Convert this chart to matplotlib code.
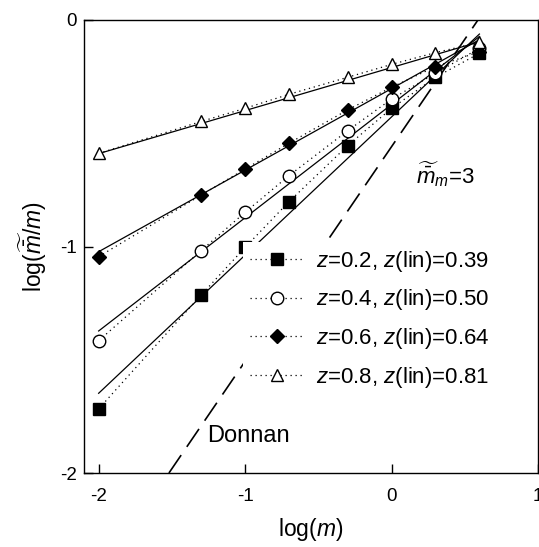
import matplotlib
matplotlib.use('Agg')
import matplotlib.pyplot as plt
import numpy as np

plt.rcParams['font.family'] = ['Liberation Sans', 'DejaVu Sans']
plt.rcParams['mathtext.fontset'] = 'custom'
plt.rcParams['mathtext.rm'] = 'Liberation Sans'
plt.rcParams['mathtext.it'] = 'Liberation Sans:italic'

# log of molality
logm = [-2.0, -1.3, -1.0, -0.7, -0.3, 0.0, 0.3, 0.6]

# log(m_bar/m) for each z
y_z02 = [-1.717, -1.214, -1.004, -0.802, -0.555, -0.390, -0.253, -0.147]
y_z04 = [-1.416, -1.018, -0.849, -0.687, -0.489, -0.349, -0.235, -0.125]
y_z06 = [-1.045, -0.773, -0.658, -0.544, -0.397, -0.297, -0.206, -0.140]
y_z08 = [-0.589, -0.448, -0.390, -0.328, -0.253, -0.196, -0.144, -0.099]

z_vals = [0.2, 0.4, 0.6, 0.8]
z_lin = [0.39, 0.50, 0.64, 0.81]
# intercepts of the linear fits at log(m)=0, slope = 1 - z(lin)
fit_b = [-0.428, -0.373, -0.303, -0.210]
fit_x = [-2.0, 0.6]

donnan_x = [-1.52, 0.59]
donnan_y = [-2.0, 0.0]

series = [y_z02, y_z04, y_z06, y_z08]
markers = ['s', 'o', 'D', '^']
faces = ['black', 'white', 'black', 'white']
msizes = [8, 9, 7.5, 9]

fig = plt.figure(figsize=(5.39, 5.47), dpi=100)
ax = fig.add_axes([84/539, 1-473/547, (538-84)/539, (473-20)/547])

for ys, zl, b, mk, fc, ms, z in zip(series, z_lin, fit_b, markers, faces, msizes, z_vals):
    xf = np.array(fit_x)
    ax.plot(xf, b + (1 - zl)*xf, color='black', lw=0.9, zorder=2)
    ax.plot(logm, ys, ls=(0, (1, 3)), lw=0.9, color='black', marker=mk,
            mfc=fc, mec='black', mew=1.0, ms=ms, zorder=3,
            label=r'$z$=%.1f, $z$(lin)=%.2f' % (z, zl))

ax.plot(donnan_x, donnan_y, color='black', lw=1.2, dashes=(13, 6), zorder=2)

leg = ax.legend(loc='upper left', bbox_to_anchor=(0.35, 0.51), fontsize=16,
                frameon=True, framealpha=1, edgecolor='none', fancybox=False,
                handlelength=2.5, handletextpad=0.5, labelspacing=0.62,
                borderpad=0.3, borderaxespad=0)
leg.set_zorder(5)

ax.text(0.17, -0.72, r'$\widetilde{\bar{m}}_m$=3', fontsize=16, va='baseline')
ax.text(-1.26, -1.862, 'Donnan', fontsize=17, va='baseline')

ax.set_xlim(-2.1, 1.0)
ax.set_ylim(-2, 0)
ax.set_xticks([-2, -1, 0, 1])
ax.set_yticks([-2, -1, 0])
ax.set_xticklabels(['-2', '-1', '0', '1'])
ax.set_yticklabels(['-2', '-1', '0'])
ax.tick_params(direction='in', length=6.5, width=1, labelsize=13.5)
ax.tick_params(axis='x', pad=11)
ax.tick_params(axis='y', pad=5)
for s in ax.spines.values():
    s.set_linewidth(1.0)

ax.set_xlabel(r'log($m$)', fontsize=16.5, labelpad=8)
ax.set_ylabel(r'log($\widetilde{\bar{m}}$/$m$)', fontsize=16.5, labelpad=8)

fig.savefig('out.png', dpi=100)
